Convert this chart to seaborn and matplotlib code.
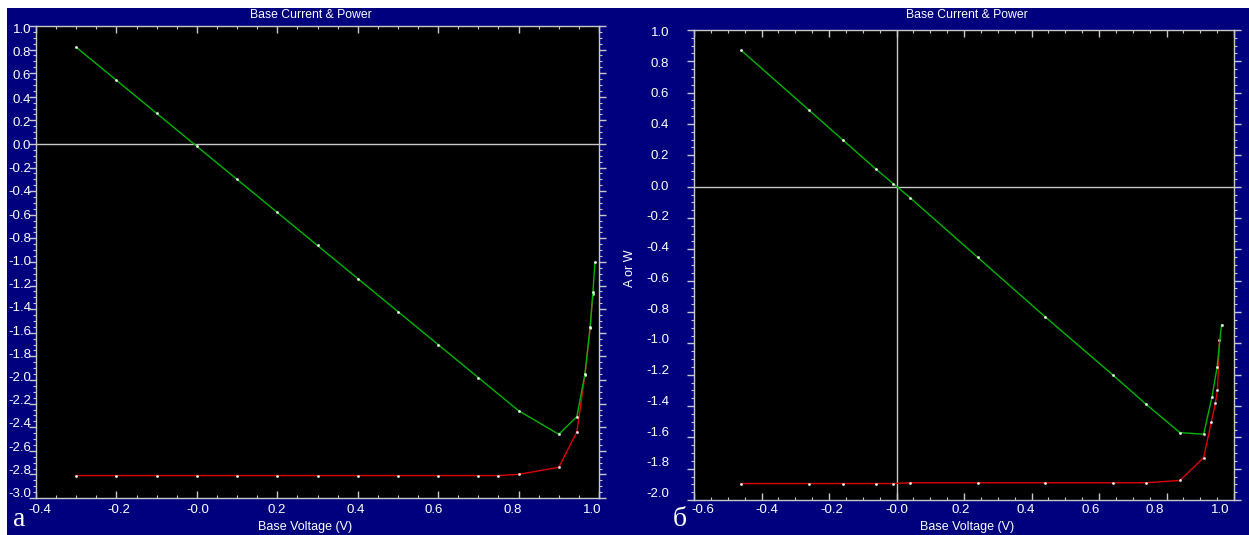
import numpy as np
import pandas as pd
import matplotlib
matplotlib.use("Agg")
import matplotlib.pyplot as plt
import matplotlib.transforms as mtrans
import seaborn as sns
from matplotlib.patches import Rectangle
from matplotlib.ticker import MultipleLocator, NullFormatter

# ---- data ----
# panel a
a_green_v = [-0.3, -0.2, -0.1, 0.0, 0.1, 0.2, 0.3, 0.4, 0.5, 0.6, 0.7, 0.8, 0.9,
             0.945, 0.965, 0.978, 0.985, 0.99]
a_green_i = [0.82, 0.54, 0.26, -0.02, -0.30, -0.58, -0.86, -1.14, -1.42, -1.70, -1.98,
             -2.26, -2.46, -2.31, -1.95, -1.55, -1.25, -1.0]
a_red_v = [-0.3, -0.2, -0.1, 0.0, 0.1, 0.2, 0.3, 0.4, 0.5, 0.6, 0.7, 0.75, 0.8, 0.9,
           0.945, 0.965, 0.978, 0.985]
a_red_p = [-2.81, -2.81, -2.81, -2.81, -2.81, -2.81, -2.81, -2.81, -2.81, -2.81, -2.81,
           -2.81, -2.80, -2.74, -2.44, -1.96, -1.56, -1.27]

# panel б
b_green_v = [-0.46, -0.26, -0.16, -0.06, -0.01, 0.04, 0.24, 0.44, 0.64, 0.74, 0.84,
             0.91, 0.935, 0.95, 0.963]
b_green_i = [0.87, 0.49, 0.30, 0.11, 0.02, -0.07, -0.45, -0.83, -1.20, -1.39, -1.57,
             -1.58, -1.34, -1.15, -0.88]
b_red_v = [-0.46, -0.26, -0.16, -0.06, -0.01, 0.04, 0.24, 0.44, 0.64, 0.74, 0.84,
           0.91, 0.933, 0.945, 0.951, 0.957]
b_red_p = [-1.895, -1.895, -1.895, -1.895, -1.895, -1.89, -1.89, -1.89, -1.89, -1.89,
           -1.875, -1.73, -1.50, -1.38, -1.30, -0.98]

# tick labels (as printed on the original, "-0.0" included)
a_xticks = [-0.4, -0.2, 0.0, 0.2, 0.4, 0.6, 0.8, 1.0]
a_xlabels = ["-0.4", "-0.2", "-0.0", "0.2", "0.4", "0.6", "0.8", "1.0"]
a_yticks = [1.0, 0.8, 0.6, 0.4, 0.2, 0.0, -0.2, -0.4, -0.6, -0.8, -1.0, -1.2, -1.4,
            -1.6, -1.8, -2.0, -2.2, -2.4, -2.6, -2.8, -3.0]
a_ylabels = ["%.1f" % t for t in a_yticks]
b_xticks = [-0.6, -0.4, -0.2, 0.0, 0.2, 0.4, 0.6, 0.8, 1.0]
b_xlabels = ["-0.6", "-0.4", "-0.2", "-0.0", "0.2", "0.4", "0.6", "0.8", "1.0"]
b_yticks = [1.0, 0.8, 0.6, 0.4, 0.2, 0.0, -0.2, -0.4, -0.6, -0.8, -1.0, -1.2, -1.4,
            -1.6, -1.8, -2.0]
b_ylabels = ["%.1f" % t for t in b_yticks]

NAVY = "#00007f"
GREEN = "#00b400"
RED = "#dc0000"
GRID = "#c8c8c8"

sns.set_style("dark")
plt.rcParams["font.family"] = ["Liberation Sans", "DejaVu Sans"]

W, H = 1249, 535
fig = plt.figure(figsize=(W / 100, H / 100), dpi=100, facecolor="white")
fig.patches.append(Rectangle((7 / W, 0), 1, (H - 8) / H, transform=fig.transFigure,
                             facecolor=NAVY, edgecolor="none", zorder=-10))


def px_axes(x0, y0, x1, y1):
    return fig.add_axes([x0 / W, (H - y1) / H, (x1 - x0) / W, (y1 - y0) / H])


ax_a = px_axes(36, 26, 599, 498)
ax_b = px_axes(694, 30, 1234, 500)

panels = [
    dict(ax=ax_a, gv=a_green_v, gy=a_green_i, rv=a_red_v, ry=a_red_p,
         xl=(-0.4, 1.0), yl=(-3.0, 1.0), xt=a_xticks, xtl=a_xlabels,
         yt=a_yticks, ytl=a_ylabels, letter="a", lx=13,
         xfac=0.98, xc=0.1, yfac=0.983, yc=-1.0, ylab_dx=-5, xlab_dy=-12,
         tx=0.488, xlx=0.478),
    dict(ax=ax_b, gv=b_green_v, gy=b_green_i, rv=b_red_v, ry=b_red_p,
         xl=(-0.6, 1.0), yl=(-2.0, 1.0), xt=b_xticks, xtl=b_xlabels,
         yt=b_yticks, ytl=b_ylabels, letter="б", lx=673,
         xfac=0.958, xc=0.0, yfac=0.981, yc=0.0, ylab_dx=-25, xlab_dy=-10,
         tx=0.506, xlx=0.505),
]

for p in panels:
    ax = p["ax"]
    ax.set_facecolor("black")
    ax.axhline(0, color=GRID, lw=1, zorder=1)
    if p["letter"] == "б":
        ax.axvline(0, color=GRID, lw=1, zorder=1)
    dr = pd.DataFrame({"v": p["rv"], "y": p["ry"]})
    dg = pd.DataFrame({"v": p["gv"], "y": p["gy"]})
    sns.lineplot(data=dr, x="v", y="y", ax=ax, sort=False, estimator=None,
                 color=RED, lw=1.0, marker="s", markersize=1.0,
                 markerfacecolor="white", markeredgecolor="white", zorder=3)
    sns.lineplot(data=dg, x="v", y="y", ax=ax, sort=False, estimator=None,
                 color=GREEN, lw=1.0, marker="s", markersize=1.0,
                 markerfacecolor="white", markeredgecolor="white", zorder=4)
    ax.set_xlim(*p["xl"])
    ax.set_ylim(*p["yl"])
    ax.xaxis.set_major_locator(MultipleLocator(0.2))
    ax.xaxis.set_minor_locator(MultipleLocator(0.05))
    ax.yaxis.set_major_locator(MultipleLocator(0.2))
    ax.yaxis.set_minor_locator(MultipleLocator(0.05))
    ax.xaxis.set_major_formatter(NullFormatter())
    ax.yaxis.set_major_formatter(NullFormatter())
    for s in ax.spines.values():
        s.set_visible(True)
        s.set_color(GRID)
        s.set_linewidth(1)
    ax.tick_params(which="both", colors=GRID, top=True, right=True, bottom=True,
                   left=True, direction="in")
    ax.tick_params(axis="y", which="both", direction="out")
    ax.tick_params(which="major", length=5, width=1)
    ax.tick_params(which="minor", length=2.5, width=0.8)
    ax.grid(False)
    ax.set_xlabel("")
    ax.set_ylabel("")

    # tick labels, packed slightly toward the middle like the original
    x0, x1 = p["xl"]
    y0, y1 = p["yl"]
    bbox = ax.get_position()
    wpx = bbox.width * W
    hpx = bbox.height * H
    xtr = mtrans.blended_transform_factory(ax.transData, ax.transAxes)
    for t, lab in zip(p["xt"], p["xtl"]):
        dx = (p["xfac"] - 1) * (t - p["xc"]) * wpx / (x1 - x0)
        tr = mtrans.offset_copy(xtr, fig=fig, x=dx, y=p["xlab_dy"], units="dots")
        ax.text(t, 0, lab, transform=tr, color="white", fontsize=9.5,
                ha="center", va="center")
    ytr = mtrans.blended_transform_factory(ax.transAxes, ax.transData)
    for t, lab in zip(p["yt"], p["ytl"]):
        dy = (p["yfac"] - 1) * (t - p["yc"]) * hpx / (y1 - y0)
        tr = mtrans.offset_copy(ytr, fig=fig, x=p["ylab_dx"], y=dy, units="dots")
        ax.text(0, t, lab, transform=tr, color="white", fontsize=9.5,
                ha="right", va="center")

    top_y = 1 + ((H - 15) - bbox.y1 * H) / hpx
    ax.text(p["tx"], top_y, "Base Current & Power", transform=ax.transAxes,
            color="white", fontsize=8.8, ha="center", va="center")
    bot_y = -(bbox.y0 * H - (H - 527)) / hpx
    ax.text(p["xlx"], bot_y, "Base Voltage (V)", transform=ax.transAxes,
            color="white", fontsize=9, ha="center", va="center")
    fig.text(p["lx"] / W, 1 - 519 / H, p["letter"], color="white", fontsize=20,
             family=["Liberation Serif", "DejaVu Serif"], ha="left", va="center")

fig.text(630 / W, 1 - 268 / H, "A or W", color="white", fontsize=9,
         rotation=90, ha="center", va="center")

fig.savefig("out.png", dpi=100, facecolor="white")
